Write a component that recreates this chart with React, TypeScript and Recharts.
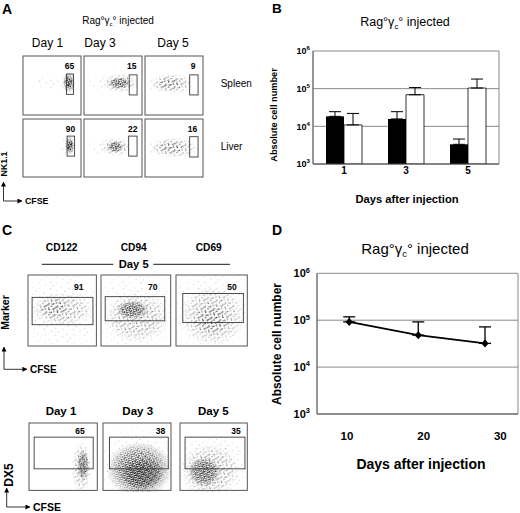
import React from 'react';
import {
  BarChart, Bar, XAxis, YAxis, CartesianGrid, ErrorBar, LineChart, Line,
  ScatterChart, Scatter, ReferenceArea,
} from 'recharts';

const FONT = '"Liberation Sans", Arial, Helvetica, sans-serif';

// ---------- Panel B data ----------
const daysB = ['1', '3', '5'];
const cellsBlack = [18400, 15700, 3330];
const cellsBlackTop = [24500, 24500, 4600];
const cellsWhite = [10900, 69000, 104000];
const cellsWhiteTop = [22000, 107000, 180000];
const logTicks = [1000, 10000, 100000, 1000000];

// ---------- Panel D data ----------
const daysD = [10.3, 19.3, 28.0];
const cellsD = [92000, 48000, 32000];
const cellsDTop = [118000, 92000, 72000];
const dTicks = [10, 20, 30];

// ---------- Panel A (NK1.1 vs CFSE), values in 0-100 plot units ----------
const aPercent = [65, 15, 9, 90, 22, 16];
const aGates = [
  [75, 87, 35, 69.5],
  [78, 91.5, 34, 68],
  [77, 91.5, 34, 68],
  [76, 89, 36, 70.5],
  [77, 91.5, 36, 70.5],
  [77, 91.5, 34.5, 69.5],
];
const aClouds = [
  [[10, 78, 40, 68, 1], [68, 90, 38, 72, 3], [72, 86, 45, 64, 3]],
  [[3, 50, 40, 68, 1], [30, 95, 38, 70, 2], [42, 80, 44, 64, 3]],
  [[0, 30, 38, 68, 1], [8, 85, 36, 70, 2], [20, 65, 42, 64, 2]],
  [[60, 92, 30, 78, 1], [72, 89, 38, 70, 3], [75, 87, 44, 64, 3]],
  [[5, 45, 38, 66, 1], [28, 82, 36, 68, 2], [40, 68, 42, 62, 3]],
  [[0, 30, 35, 66, 1], [8, 92, 33, 68, 2], [20, 70, 40, 62, 2]],
];

// ---------- Panel C top row (Marker vs CFSE) ----------
const cMarkers = ['CD122', 'CD94', 'CD69'];
const cPercent1 = [91, 70, 50];
const cGates1 = [[6, 95, 30, 68.5], [6, 91.5, 35.5, 69.5], [9.5, 94.5, 33, 74]];
const cClouds1 = [
  [[-20, 120, -20, 120, 1], [5, 95, 28, 75, 2], [15, 60, 40, 68, 2]],
  [[-20, 120, -20, 120, 1], [5, 98, 5, 75, 2], [22, 68, 38, 64, 3]],
  [[-20, 120, -20, 120, 1], [5, 98, 0, 85, 2], [25, 75, 15, 60, 2]],
];

// ---------- Panel C bottom row (DX5 vs CFSE) ----------
const cDays = ['Day 1', 'Day 3', 'Day 5'];
const cPercent2 = [65, 38, 35];
const cGates2 = [[7.5, 94, 32, 79], [9.5, 96, 32, 79], [7.5, 96.5, 32, 79]];
const cClouds2 = [
  [[62, 92, -5, 72, 2], [70, 88, 15, 60, 3]],
  [[-20, 120, -20, 100, 1], [5, 102, -10, 72, 3], [25, 90, 0, 50, 3]],
  [[-20, 120, -20, 95, 1], [0, 90, -10, 70, 2], [12, 60, 5, 50, 3]],
];

// ---------- layout ----------
const aCols = [23, 83.5, 144.5];
const aRows = [56, 119];
const aW = 58;
const aH = [59, 58];
const aNumPos = [[69.5, 69.3], [131.7, 69.3], [193, 69.3], [70.5, 131.7], [132.8, 131.7], [192.5, 131.7]];
const c1Left = [28.3, 101, 176];
const c1W = [68.4, 69.7, 71.3];
const c1Top = 275;
const c1H = 71;
const c1NumPos = [[78.7, 290], [152.8, 290], [232, 290]];
const c2Left = [29, 102.7, 180];
const c2W = [68.3, 68, 67.3];
const c2Top = 423.3;
const c2H = 67.4;
const c2NumPos = [[80, 434], [160.5, 434], [236, 434]];

const barData = daysB.map((d, i) => ({
  day: d,
  black: cellsBlack[i],
  white: cellsWhite[i],
  eb: [0, cellsBlackTop[i] - cellsBlack[i]],
  ew: [0, cellsWhiteTop[i] - cellsWhite[i]],
}));

const lineData = daysD.map((d, i) => ({
  day: d,
  cells: cellsD[i],
  err: [0, cellsDTop[i] - cellsD[i]],
}));

const PowTick = (props: any) => {
  const { x, y, payload, fs } = props;
  const exp = Math.round(Math.log10(payload.value));
  return (
    <text x={x} y={y} dy="0.36em" textAnchor="end" fontFamily={FONT} fontWeight="bold" fontSize={fs} fill="#000">
      10<tspan dy={-fs * 0.42} fontSize={fs * 0.68}>{exp}</tspan>
    </text>
  );
};

const Diamond = (props: any) => {
  const { cx, cy } = props;
  if (cx == null || cy == null) return null;
  return <polygon points={`${cx},${cy - 4.2} ${cx + 3.6},${cy} ${cx},${cy + 4.2} ${cx - 3.6},${cy}`} fill="#000" />;
};

const frameGen = (p: any) => [p.offset.left, p.offset.left + p.offset.width];

const cloudShape = (level: number) => (p: any) => (
  <rect x={p.x} y={p.y} width={Math.max(0, p.width)} height={Math.max(0, p.height)}
    fill={`url(#dots${level})`} mask="url(#fade)" />
);

const boxShape = (color: string, sw: number) => (p: any) => (
  <rect x={p.x} y={p.y} width={Math.max(0, p.width)} height={Math.max(0, p.height)}
    fill="none" stroke={color} strokeWidth={sw} />
);

function FlowPlot({ left, top, w, h, gate, clouds }: any) {
  return (
    <div style={{ position: 'absolute', left: left - 1, top: top - 1 }}>
      <ScatterChart width={w + 2} height={h + 2} margin={{ top: 1, right: 1, bottom: 1, left: 1 }}>
        <XAxis type="number" dataKey="x" domain={[0, 100]} hide allowDataOverflow />
        <YAxis type="number" dataKey="y" domain={[0, 100]} hide allowDataOverflow />
        <Scatter data={[]} isAnimationActive={false} />
        {clouds.map((c: number[], i: number) => (
          <ReferenceArea key={i} x1={c[0]} x2={c[1]} y1={c[2]} y2={c[3]} ifOverflow="hidden"
            shape={cloudShape(c[4])} />
        ))}
        <ReferenceArea x1={gate[0]} x2={gate[1]} y1={gate[2]} y2={gate[3]} ifOverflow="visible"
          shape={boxShape('#3a3a3a', 0.9)} />
        <ReferenceArea x1={0} x2={100} y1={0} y2={100} ifOverflow="visible"
          shape={boxShape('#555', 1)} />
      </ScatterChart>
    </div>
  );
}

function RagTitle({ x, y, fs }: any) {
  return (
    <text x={x} y={y} textAnchor="middle" fontSize={fs} fontFamily={FONT} fill="#000">
      Rag°γ<tspan fontSize={fs * 0.62} dy={fs * 0.22}>c</tspan><tspan dy={-fs * 0.22}>° injected</tspan>
    </text>
  );
}

const T = ({ x, y, fs, bold, anchor, children, rot }: any) => (
  <text x={x} y={y} fontSize={fs} fontWeight={bold ? 'bold' : 'normal'} fontFamily={FONT} fill="#000"
    textAnchor={anchor || 'middle'} transform={rot ? `rotate(-90 ${x} ${y})` : undefined}>
    {children}
  </text>
);

export default function App() {
  return (
    <div style={{ position: 'absolute', left: 0, top: 0, width: 520, height: 513, background: '#fff', fontFamily: FONT, overflow: 'hidden' }}>
      <svg width={0} height={0} style={{ position: 'absolute' }}>
        <defs>
          <pattern id="dots1" width="13" height="13" patternUnits="userSpaceOnUse" patternTransform="rotate(27)">
            <circle cx="1.5" cy="2.5" r="0.45" fill="#666" />
            <circle cx="8.5" cy="1" r="0.45" fill="#666" />
            <circle cx="5" cy="7" r="0.45" fill="#666" />
            <circle cx="11" cy="9.5" r="0.45" fill="#666" />
            <circle cx="2.5" cy="11.5" r="0.45" fill="#666" />
          </pattern>
          <pattern id="dots2" width="9" height="9" patternUnits="userSpaceOnUse" patternTransform="rotate(17)">
            <circle cx="0.8" cy="1" r="0.55" fill="#222" />
            <circle cx="4.6" cy="0.5" r="0.55" fill="#222" />
            <circle cx="7.4" cy="2.6" r="0.55" fill="#222" />
            <circle cx="2.8" cy="3.9" r="0.55" fill="#222" />
            <circle cx="5.9" cy="5.6" r="0.55" fill="#222" />
            <circle cx="0.7" cy="6.8" r="0.55" fill="#222" />
            <circle cx="3.8" cy="8.1" r="0.55" fill="#222" />
            <circle cx="8.2" cy="7.9" r="0.55" fill="#222" />
            <circle cx="1.9" cy="5.2" r="0.55" fill="#222" />
            <circle cx="6.1" cy="3.2" r="0.55" fill="#222" />
          </pattern>
          <pattern id="dots3" width="5" height="5" patternUnits="userSpaceOnUse" patternTransform="rotate(38)">
            <circle cx="0.6" cy="0.7" r="0.62" fill="#000" />
            <circle cx="2.7" cy="0.3" r="0.62" fill="#000" />
            <circle cx="4.4" cy="1.2" r="0.62" fill="#000" />
            <circle cx="1.6" cy="2.1" r="0.62" fill="#000" />
            <circle cx="3.4" cy="2.7" r="0.62" fill="#000" />
            <circle cx="0.4" cy="3.6" r="0.62" fill="#000" />
            <circle cx="2.3" cy="4.3" r="0.62" fill="#000" />
            <circle cx="4.5" cy="4.2" r="0.62" fill="#000" />
          </pattern>
          <radialGradient id="fadeGrad" cx="0.5" cy="0.5" r="0.5">
            <stop offset="0" stopColor="#fff" />
            <stop offset="0.6" stopColor="#ccc" />
            <stop offset="1" stopColor="#000" />
          </radialGradient>
          <mask id="fade" maskUnits="objectBoundingBox" maskContentUnits="objectBoundingBox" x="0" y="0" width="1" height="1">
            <rect x="0" y="0" width="1" height="1" fill="url(#fadeGrad)" />
          </mask>
          <marker id="ah" viewBox="0 0 6 6" refX="5.5" refY="3" markerWidth="5" markerHeight="5"
            markerUnits="userSpaceOnUse" orient="auto">
            <path d="M0,0 L6,3 L0,6 z" fill="#000" />
          </marker>
        </defs>
      </svg>

      {/* Panel A flow plots */}
      {aPercent.map((_, i) => (
        <FlowPlot key={'a' + i} left={aCols[i % 3]} top={aRows[Math.floor(i / 3)]} w={aW} h={aH[Math.floor(i / 3)]}
          gate={aGates[i]} clouds={aClouds[i]} />
      ))}

      {/* Panel C flow plots */}
      {cPercent1.map((_, i) => (
        <FlowPlot key={'c1' + i} left={c1Left[i]} top={c1Top} w={c1W[i]} h={c1H} gate={cGates1[i]} clouds={cClouds1[i]} />
      ))}
      {cPercent2.map((_, i) => (
        <FlowPlot key={'c2' + i} left={c2Left[i]} top={c2Top} w={c2W[i]} h={c2H} gate={cGates2[i]} clouds={cClouds2[i]} />
      ))}

      {/* Panel B */}
      <div style={{ position: 'absolute', left: 260, top: 0 }}>
        <BarChart width={260} height={215} data={barData} margin={{ top: 51, right: 21, bottom: 21, left: 23 }}
          barGap={0} barSize={18}>
          <CartesianGrid stroke="#8a8a8a" strokeWidth={1} verticalCoordinatesGenerator={frameGen} />
          <XAxis dataKey="day" height={30} tickLine={false} tickSize={0} tickMargin={3}
            axisLine={{ stroke: '#444' }}
            tick={{ fontSize: 10, fontWeight: 'bold', fill: '#000', fontFamily: FONT }} />
          <YAxis scale="log" type="number" domain={[1000, 1000000]} ticks={logTicks} allowDataOverflow width={30}
            tickLine={false} tickSize={0} tickMargin={3} axisLine={{ stroke: '#666' }} tick={<PowTick fs={9} />} />
          <Bar dataKey="black" fill="#000" isAnimationActive={false}>
            <ErrorBar dataKey="eb" width={6} stroke="#000" strokeWidth={1} direction="y" />
          </Bar>
          <Bar dataKey="white" fill="#fff" stroke="#000" strokeWidth={0.8} isAnimationActive={false}>
            <ErrorBar dataKey="ew" width={6} stroke="#000" strokeWidth={1} direction="y" />
          </Bar>
        </BarChart>
      </div>

      {/* Panel D */}
      <div style={{ position: 'absolute', left: 260, top: 240 }}>
        <LineChart width={260} height={240} data={lineData} margin={{ top: 33.3, right: 2, bottom: 36, left: 27 }}>
          <CartesianGrid stroke="#8a8a8a" strokeWidth={1} verticalCoordinatesGenerator={frameGen} />
          <XAxis type="number" dataKey="day" domain={[6.1, 32.3]} ticks={dTicks} allowDataOverflow height={30}
            tickLine={false} tickSize={0} tickMargin={18} axisLine={{ stroke: '#555' }}
            tick={{ fontSize: 11.5, fontWeight: 'bold', fill: '#000', fontFamily: FONT }} />
          <YAxis scale="log" type="number" domain={[1000, 1000000]} ticks={logTicks} allowDataOverflow width={30}
            tickLine={false} tickSize={0} tickMargin={7} axisLine={{ stroke: '#666' }} tick={<PowTick fs={11} />} />
          <Line dataKey="cells" stroke="#000" strokeWidth={1.8} dot={<Diamond />} activeDot={false}
            isAnimationActive={false}>
            <ErrorBar dataKey="err" width={6} stroke="#000" strokeWidth={1.3} direction="y" />
          </Line>
        </LineChart>
      </div>

      {/* Text & annotation overlay */}
      <svg width={520} height={513} style={{ position: 'absolute', left: 0, top: 0, pointerEvents: 'none' }}>
        {/* panel letters */}
        <T x={2} y={14} fs={14} bold anchor="start">A</T>
        <T x={272} y={13} fs={13.5} bold anchor="start">B</T>
        <T x={2} y={235} fs={14} bold anchor="start">C</T>
        <T x={272} y={235} fs={14} bold anchor="start">D</T>

        {/* Panel A texts */}
        <RagTitle x={118} y={23.5} fs={10} />
        <T x={47.5} y={47} fs={12}>Day 1</T>
        <T x={100} y={47} fs={12}>Day 3</T>
        <T x={173} y={47} fs={12}>Day 5</T>
        <T x={220.7} y={87} fs={10} anchor="start">Spleen</T>
        <T x={220.7} y={150} fs={10} anchor="start">Liver</T>
        {aPercent.map((p, i) => (
          <T key={'an' + i} x={aNumPos[i][0]} y={aNumPos[i][1]} fs={8.5} bold>{p}</T>
        ))}
        <T x={6.8} y={164} fs={8.8} bold rot>NK1.1</T>
        <line x1={3.5} y1={201} x2={3.5} y2={182} stroke="#000" strokeWidth={0.8} markerEnd="url(#ah)" />
        <line x1={3.5} y1={201} x2={22} y2={201} stroke="#000" strokeWidth={0.8} markerEnd="url(#ah)" />
        <T x={25} y={204.3} fs={8.8} bold anchor="start">CFSE</T>

        {/* Panel C texts */}
        {cMarkers.map((m, i) => (
          <T key={'cm' + i} x={[61.7, 133.7, 208.7][i]} y={251} fs={10.2} bold>{m}</T>
        ))}
        <line x1={41.7} y1={264.3} x2={113.3} y2={264.3} stroke="#000" strokeWidth={0.9} />
        <line x1={153.3} y1={264.3} x2={230} y2={264.3} stroke="#000" strokeWidth={0.9} />
        <T x={133.7} y={268} fs={11.2} bold>Day 5</T>
        {cPercent1.map((p, i) => (
          <T key={'c1n' + i} x={c1NumPos[i][0]} y={c1NumPos[i][1]} fs={8.5} bold>{p}</T>
        ))}
        <T x={9.3} y={312.5} fs={10.6} bold rot>Marker</T>
        <line x1={4} y1={369.3} x2={4} y2={347} stroke="#000" strokeWidth={0.8} markerEnd="url(#ah)" />
        <line x1={4} y1={369.3} x2={27} y2={369.3} stroke="#000" strokeWidth={0.8} markerEnd="url(#ah)" />
        <T x={30} y={373} fs={10} bold anchor="start">CFSE</T>

        {cDays.map((d, i) => (
          <T key={'cd' + i} x={[61, 137.7, 213.3][i]} y={414.5} fs={11.5} bold>{d}</T>
        ))}
        {cPercent2.map((p, i) => (
          <T key={'c2n' + i} x={c2NumPos[i][0]} y={c2NumPos[i][1]} fs={8.5} bold>{p}</T>
        ))}
        <T x={13.3} y={475} fs={12} bold rot>DX5</T>
        <line x1={6.7} y1={507} x2={6.7} y2={488} stroke="#000" strokeWidth={0.8} markerEnd="url(#ah)" />
        <line x1={6.7} y1={507} x2={30} y2={507} stroke="#000" strokeWidth={0.8} markerEnd="url(#ah)" />
        <T x={33} y={511.3} fs={10.5} bold anchor="start">CFSE</T>

        {/* Panel B texts */}
        <RagTitle x={405} y={26} fs={12.5} />
        <T x={277} y={115} fs={9.2} bold rot>Absolute cell number</T>
        <T x={407} y={203} fs={11.2} bold>Days after injection</T>

        {/* Panel D texts */}
        <RagTitle x={415} y={254} fs={15} />
        <T x={280.5} y={344} fs={12} bold rot>Absolute cell number</T>
        <T x={421} y={469} fs={14} bold>Days after injection</T>
      </svg>
    </div>
  );
}
